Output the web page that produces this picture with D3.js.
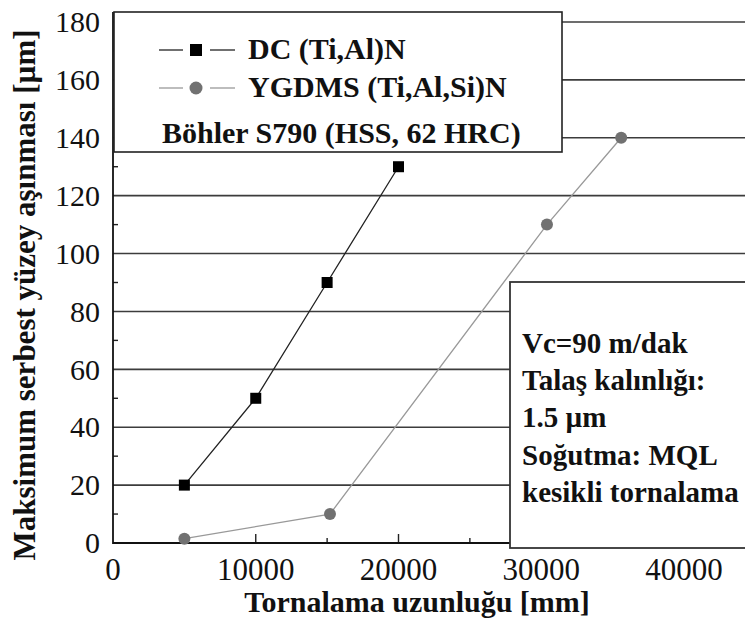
<!DOCTYPE html>
<html>
<head>
<meta charset="utf-8">
<script src="https://cdn.jsdelivr.net/npm/d3@7"></script>
</head>
<body style="margin:0">
<svg id="s" width="745" height="630" font-family='"Liberation Serif", monospace'></svg>
<script>
// series values
const dcLength = [5000, 10000, 15000, 20000];
const dcWear = [20, 50, 90, 130];
const ygLength = [5000, 15200, 30400, 35600];
const ygWear = [1.5, 10, 110, 140];

const xTicks = [0, 10000, 20000, 30000, 40000];
const xMinor = [5000, 15000, 25000, 35000];
const yTicks = [0, 20, 40, 60, 80, 100, 120, 140, 160, 180];
const yMinor = [10, 30, 50, 70, 90, 110, 130, 150, 170];

const legendLabels = ["DC (Ti,Al)N", "YGDMS (Ti,Al,Si)N", "Böhler S790 (HSS, 62 HRC)"];
const noteLines = ["Vc=90 m/dak", "Talaş kalınlığı:", "1.5 µm", "Soğutma: MQL", "kesikli tornalama"];

const width = 745;
const serif = '"Liberation Serif", monospace';
const svg = d3.select("#s");

const x = d3.scaleLinear().domain([0, 40000]).range([113, 684]);
const y = d3.scaleLinear().domain([0, 180]).range([543, 22]);

function label(sel, size, bold) {
  return sel.attr("font-family", serif)
    .attr("font-size", size)
    .attr("font-weight", bold ? "bold" : "normal")
    .attr("fill", "#111");
}

// gridlines
svg.append("g")
  .selectAll("line")
  .data(yTicks.filter(d => d > 0))
  .enter()
  .append("line")
  .attr("x1", x(0))
  .attr("x2", width)
  .attr("y1", d => y(d))
  .attr("y2", d => y(d))
  .attr("stroke", "#3c3c3c")
  .attr("stroke-width", 1.6);

// y axis labels
svg.append("g")
  .selectAll("text")
  .data(yTicks)
  .enter()
  .append("text")
  .call(label, 30, false)
  .attr("x", x(0) - 13)
  .attr("y", d => y(d))
  .attr("dy", "0.34em")
  .attr("text-anchor", "end")
  .text(d3.format("d"));

// x axis labels
svg.append("g")
  .selectAll("text")
  .data(xTicks)
  .enter()
  .append("text")
  .call(label, 31, false)
  .attr("x", d => x(d))
  .attr("y", 580)
  .attr("text-anchor", "middle")
  .text(d3.format("d"));

// inward ticks
svg.append("g")
  .selectAll("line")
  .data(yMinor)
  .enter()
  .append("line")
  .attr("x1", x(0))
  .attr("x2", x(0) + 5)
  .attr("y1", d => y(d))
  .attr("y2", d => y(d))
  .attr("stroke", "#222")
  .attr("stroke-width", 1.4);

svg.append("g")
  .selectAll("line")
  .data(xTicks.slice(1).concat(xMinor))
  .enter()
  .append("line")
  .attr("x1", d => x(d))
  .attr("x2", d => x(d))
  .attr("y1", y(0))
  .attr("y2", d => y(0) - (d % 10000 === 0 ? 9 : 5))
  .attr("stroke", "#222")
  .attr("stroke-width", 1.4);

// axis lines
svg.append("line")
  .attr("x1", x(0)).attr("x2", x(0))
  .attr("y1", 12).attr("y2", y(0) + 1)
  .attr("stroke", "#111").attr("stroke-width", 1.8);
svg.append("line")
  .attr("x1", x(0)).attr("x2", width)
  .attr("y1", y(0)).attr("y2", y(0))
  .attr("stroke", "#111").attr("stroke-width", 1.8);

// series
const line = d3.line().x(d => x(d[0])).y(d => y(d[1]));
const dcPts = d3.zip(dcLength, dcWear);
const ygPts = d3.zip(ygLength, ygWear);

svg.append("path")
  .datum(ygPts)
  .attr("d", line)
  .attr("fill", "none")
  .attr("stroke", "#999")
  .attr("stroke-width", 1.3);

svg.append("path")
  .datum(dcPts)
  .attr("d", line)
  .attr("fill", "none")
  .attr("stroke", "#222")
  .attr("stroke-width", 1.3);

svg.append("g")
  .selectAll("rect")
  .data(dcPts)
  .enter()
  .append("rect")
  .attr("x", d => x(d[0]) - 5.5)
  .attr("y", d => y(d[1]) - 5.5)
  .attr("width", 11)
  .attr("height", 11)
  .attr("fill", "#000");

svg.append("g")
  .selectAll("circle")
  .data(ygPts)
  .enter()
  .append("circle")
  .attr("cx", d => x(d[0]))
  .attr("cy", d => y(d[1]))
  .attr("r", 6)
  .attr("fill", "#717171");

// legend box
const legend = svg.append("g");
legend.append("rect")
  .attr("x", 114).attr("y", 12)
  .attr("width", 448).attr("height", 140)
  .attr("fill", "#fff")
  .attr("stroke", "#222")
  .attr("stroke-width", 1.6);

const rows = [
  { y: 50, stroke: "#222", marker: "square" },
  { y: 88, stroke: "#999", marker: "circle" }
];
rows.forEach((r, i) => {
  legend.append("line").attr("x1", 159).attr("x2", 183).attr("y1", r.y).attr("y2", r.y)
    .attr("stroke", r.stroke).attr("stroke-width", 1.3);
  legend.append("line").attr("x1", 210).attr("x2", 235).attr("y1", r.y).attr("y2", r.y)
    .attr("stroke", r.stroke).attr("stroke-width", 1.3);
  if (r.marker === "square") {
    legend.append("rect").attr("x", 190).attr("y", r.y - 6).attr("width", 12).attr("height", 12).attr("fill", "#000");
  } else {
    legend.append("circle").attr("cx", 196).attr("cy", r.y).attr("r", 6.5).attr("fill", "#717171");
  }
  legend.append("text")
    .call(label, 30, true)
    .attr("x", 248).attr("y", r.y + 9)
    .text(legendLabels[i]);
});
legend.append("text")
  .call(label, 30, true)
  .attr("x", 162).attr("y", 143)
  .text(legendLabels[2]);

// conditions box
const note = svg.append("g");
note.append("rect")
  .attr("x", 510).attr("y", 282)
  .attr("width", 260).attr("height", 266)
  .attr("fill", "#fff")
  .attr("stroke", "#333")
  .attr("stroke-width", 1.8);
note.selectAll("text")
  .data(noteLines)
  .enter()
  .append("text")
  .call(label, 29, true)
  .attr("x", 522)
  .attr("y", (d, i) => 353 + i * 37.2)
  .text(d => d);

// axis titles
svg.append("text")
  .call(label, 30, true)
  .attr("x", 417).attr("y", 612)
  .attr("text-anchor", "middle")
  .text("Tornalama uzunluğu [mm]");

svg.append("text")
  .call(label, 31, true)
  .attr("transform", "translate(35,295) rotate(-90)")
  .attr("text-anchor", "middle")
  .text("Maksimum serbest yüzey aşınması [µm]");
</script>
</body>
</html>
